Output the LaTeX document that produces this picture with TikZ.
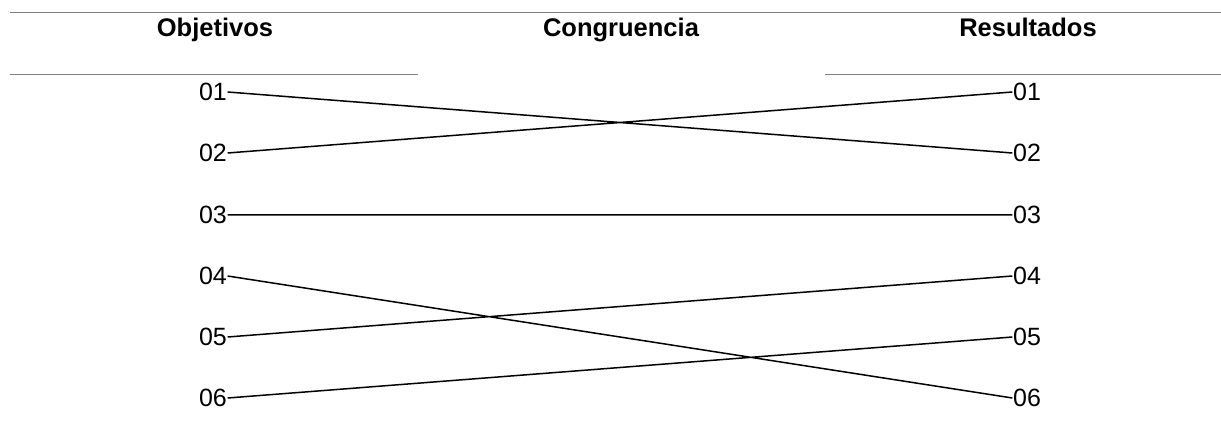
\documentclass[tikz,border=0pt]{standalone}
\usepackage{fontspec}
\setmainfont{Liberation Sans}
\usepackage{tikz}
\usetikzlibrary{positioning}

\begin{document}
\begin{tikzpicture}[x=1pt,y=-1pt,font=\fontsize{25}{30}\selectfont,
        num/.style={inner sep=0.5pt},
        head/.style={anchor=base,font=\fontsize{25.5}{30}\selectfont\bfseries},
        rule/.style={draw=gray,line width=1.5pt},
        link/.style={draw=black,line width=1.5pt}]
        \useasboundingbox (0,0) rectangle (1221,438);
        \coordinate (t1) at (10,12.5);
        \coordinate (t2) at (1221,12.5);
        \coordinate (l1) at (10,74.5);
        \coordinate (l2) at (418,74.5);
        \coordinate (m1) at (825,74.5);
        \coordinate (m2) at (1221,74.5);
        \node[head] (obj) at (215,37) {Objetivos};
        \node[head] (con) at (621,37) {Congruencia};
        \node[head] (res) at (1028,37) {Resultados};
        \node[num] (o1) at (213,92) {01};
        \node[num] (o2) at (213,153) {02};
        \node[num] (o3) at (213,215) {03};
        \node[num] (o4) at (213,276) {04};
        \node[num] (o5) at (213,337) {05};
        \node[num] (o6) at (213,398) {06};
        \node[num] (r1) at (1027,92) {01};
        \node[num] (r2) at (1027,153) {02};
        \node[num] (r3) at (1027,215) {03};
        \node[num] (r4) at (1027,276) {04};
        \node[num] (r5) at (1027,337) {05};
        \node[num] (r6) at (1027,398) {06};
        \path[rule] (t1) -- (t2)
                    (l1) -- (l2)
                    (m1) -- (m2);
        \path[link] (o1.east) -- (r2.west)
                    (o2.east) -- (r1.west)
                    (o3.east) -- (r3.west)
                    (o4.east) -- (r6.west)
                    (o5.east) -- (r4.west)
                    (o6.east) -- (r5.west);
    \end{tikzpicture}
\end{document}
